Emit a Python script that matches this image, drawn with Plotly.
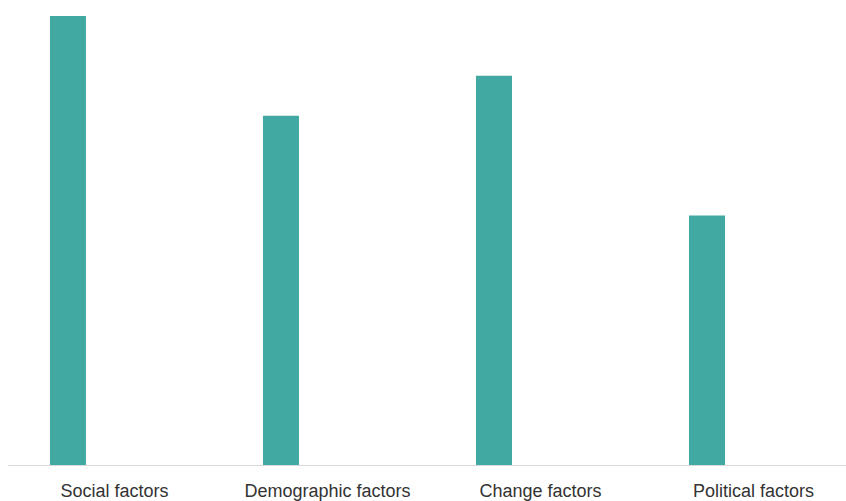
import plotly.graph_objects as go

categories = ["Social factors", "Demographic factors", "Change factors", "Political factors"]
values = [45, 35, 39, 25]

fig = go.Figure()
fig.add_trace(go.Bar(
    x=categories, y=values,
    marker=dict(color="#41A9A2", line=dict(width=0)),
    width=0.169, offset=-0.303,
))
fig.update_layout(
    width=846, height=501,
    margin=dict(l=8, r=0, t=10, b=36),
    paper_bgcolor="white", plot_bgcolor="white",
    showlegend=False,
    font=dict(family="Liberation Sans, Arial, sans-serif", size=18, color="#333333"),
)
fig.update_xaxes(
    range=[-0.5, 3.434],
    showline=True, linecolor="#D9D9D9", linewidth=1,
    ticks="outside", ticklen=9, tickcolor="rgba(0,0,0,0)",
    showgrid=False, zeroline=False,
)
fig.update_yaxes(
    range=[0, 45.6], visible=False, showgrid=False, zeroline=False,
)
fig.write_html("out.html")
